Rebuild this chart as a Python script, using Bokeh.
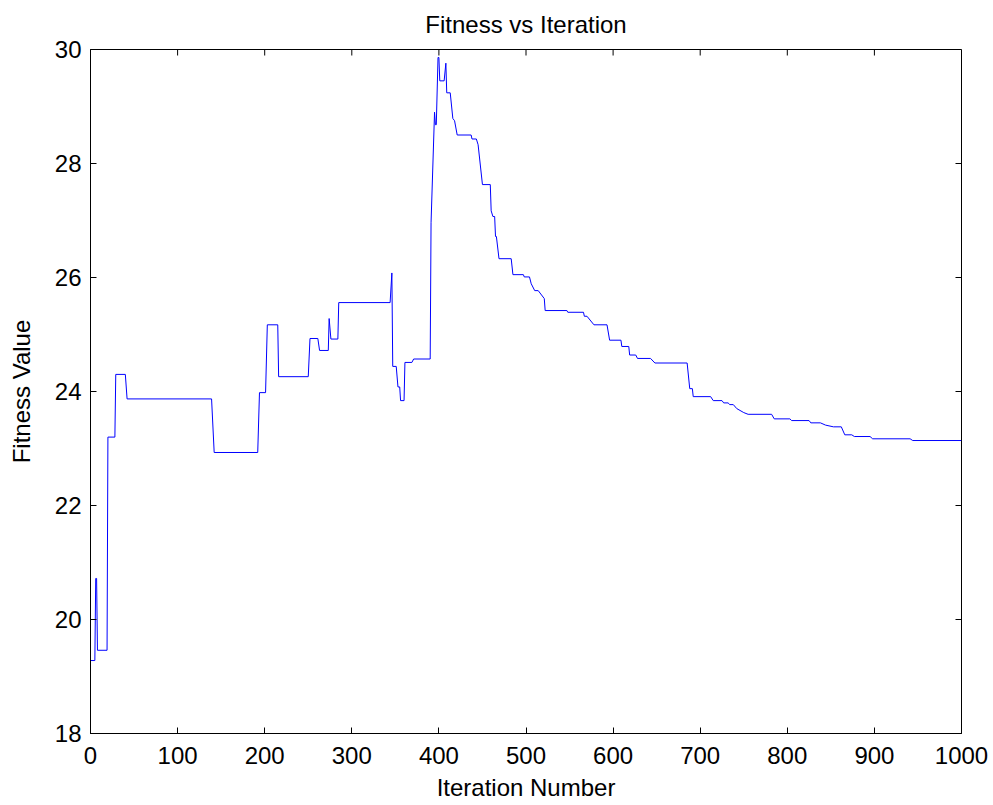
import math
from bokeh.plotting import figure
from bokeh.models import Range1d, FixedTicker
from bokeh.embed import file_html
from bokeh.resources import INLINE

iterations = [0, 5, 6, 7, 8, 19, 20, 28, 29, 40, 42, 139, 142, 192, 194, 201, 203, 215, 216, 250,
              252, 261, 263, 273, 274, 276, 284, 285, 344, 346, 347, 351, 353, 355, 356, 360,
              361, 369, 371, 390, 391, 395, 396, 397, 399, 400, 401, 406, 408, 409, 413, 416,
              418, 421, 437, 438, 443, 445, 450, 459, 460, 462, 464, 465, 466, 469, 483, 485,
              497, 498, 504, 506, 510, 514, 521, 522, 547, 548, 566, 567, 570, 578, 593, 596,
              609, 610, 618, 619, 626, 628, 643, 648, 685, 688, 691, 692, 712, 715, 725, 727,
              732, 734, 738, 742, 750, 755, 782, 785, 803, 805, 825, 827, 838, 844, 853, 862,
              866, 874, 877, 895, 898, 941, 944, 1000]
fitness = [19.28, 19.28, 20.72, 20.72, 19.46, 19.46, 23.20, 23.20, 24.30, 24.30, 23.87, 23.87, 22.93,
           22.93, 23.98, 23.98, 25.17, 25.17, 24.26, 24.26, 24.93, 24.93, 24.72, 24.72, 25.28,
           24.92, 24.92, 25.56, 25.56, 26.08, 24.44, 24.44, 24.08, 24.08, 23.84, 23.84, 24.51,
           24.51, 24.57, 24.57, 26.96, 28.90, 28.68, 28.68, 29.86, 29.86, 29.45, 29.45, 29.76,
           29.24, 29.24, 28.79, 28.75, 28.50, 28.50, 28.43, 28.43, 28.33, 27.63, 27.63, 27.17,
           27.07, 27.07, 26.72, 26.72, 26.33, 26.33, 26.05, 26.05, 26.01, 26.01, 25.89, 25.77,
           25.77, 25.63, 25.42, 25.42, 25.39, 25.39, 25.32, 25.32, 25.17, 25.17, 24.90, 24.90,
           24.79, 24.79, 24.64, 24.64, 24.58, 24.58, 24.50, 24.50, 24.05, 24.05, 23.91, 23.91,
           23.84, 23.84, 23.80, 23.80, 23.77, 23.77, 23.70, 23.63, 23.60, 23.60, 23.52, 23.52,
           23.49, 23.49, 23.45, 23.45, 23.41, 23.38, 23.38, 23.24, 23.24, 23.21, 23.21, 23.17,
           23.17, 23.14, 23.14]

x_ticks = [0, 100, 200, 300, 400, 500, 600, 700, 800, 900, 1000]
y_ticks = [18, 20, 22, 24, 26, 28, 30]
x_min, x_max = 0, 1000
y_min, y_max = 18, 30

FONT = "Liberation Sans"
FS = "24px"
TICK = 6

p = figure(width=988, height=803, output_backend="svg", toolbar_location=None,
           x_range=Range1d(x_min, x_max), y_range=Range1d(y_min, y_max),
           min_border_left=90, min_border_right=27, min_border_top=48, min_border_bottom=69,
           x_axis_label="Iteration Number", y_axis_label="Fitness Value")

p.title.text = "Fitness vs Iteration"
p.title.align = "center"
p.title.vertical_align = "top"
p.title.text_font = FONT
p.title.text_font_size = FS
p.title.text_font_style = "normal"
p.title.text_color = "black"
p.title.standoff = 0
p.title.padding = 10

p.line(iterations, fitness, line_color="#0000ff", line_width=1)

# inner tick marks on the top and right edges of the box
p.ray(x=x_ticks, y=[y_max] * len(x_ticks), length=TICK, length_units="screen",
      angle=-math.pi / 2, line_color="black", line_width=1)
p.ray(x=[x_max] * len(y_ticks), y=y_ticks, length=TICK, length_units="screen",
      angle=math.pi, line_color="black", line_width=1)

p.grid.visible = False
p.outline_line_color = "black"
p.outline_line_width = 1
p.background_fill_color = "white"
p.border_fill_color = "white"

for ax, ticks in ((p.xaxis[0], x_ticks), (p.yaxis[0], y_ticks)):
    ax.ticker = FixedTicker(ticks=ticks)
    ax.major_tick_in = TICK
    ax.major_tick_out = 0
    ax.minor_tick_line_color = None
    ax.axis_line_color = "black"
    ax.major_tick_line_color = "black"
    ax.major_label_text_font = FONT
    ax.major_label_text_font_size = FS
    ax.major_label_text_color = "black"
    ax.axis_label_text_font = FONT
    ax.axis_label_text_font_size = FS
    ax.axis_label_text_font_style = "normal"
    ax.axis_label_text_color = "black"

p.xaxis[0].major_label_standoff = 13
p.xaxis[0].axis_label_standoff = 7
p.yaxis[0].major_label_standoff = 9
p.yaxis[0].axis_label_standoff = 17

open("out.html", "w").write(file_html(p, INLINE))
